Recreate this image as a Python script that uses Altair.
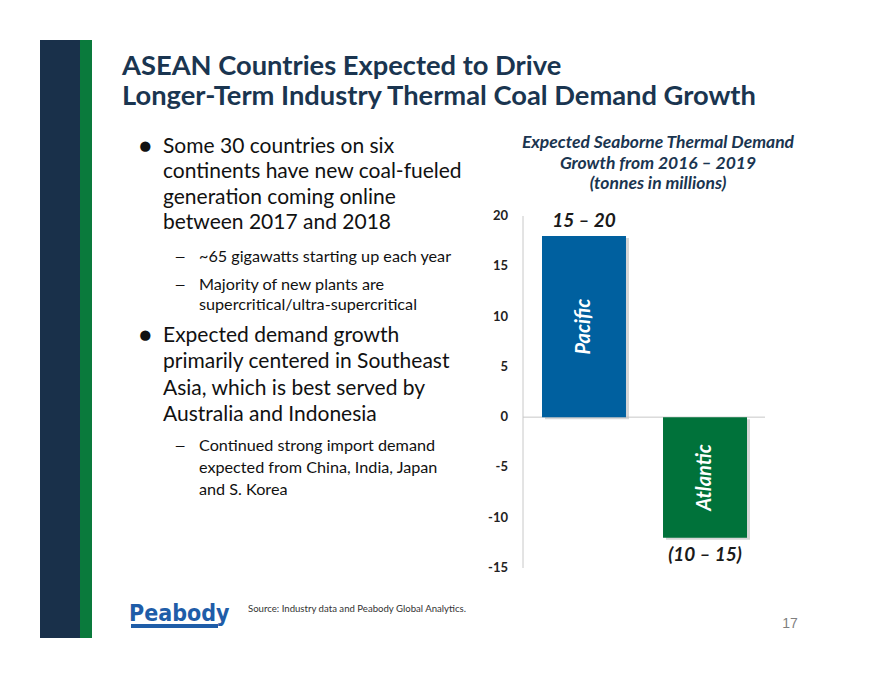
import altair as alt
import pandas as pd

# ---- data ----
regions = ["Pacific", "Atlantic"]
values = [18, -12]
range_labels = ["15 – 20", "(10 – 15)"]
bar_colors = ["#00609F", "#00723A"]
tick_values = [20, 15, 10, 5, 0, -5, -10, -15]
tick_texts = ["20", "15", "10", "5", "0", "-5", "-10", "-15"]

title_lines = ["ASEAN Countries Expected to Drive",
               "Longer-Term Industry Thermal Coal Demand Growth"]
chart_title_lines = ["Expected Seaborne Thermal Demand",
                     "Growth from 2016 – 2019",
                     "(tonnes in millions)"]
bullet1 = ["Some 30 countries on six", "continents have new coal-fueled",
           "generation coming online", "between 2017 and 2018"]
sub1a = ["~65 gigawatts starting up each year"]
sub1b = ["Majority of new plants are", "supercritical/ultra-supercritical"]
bullet2 = ["Expected demand growth", "primarily centered in Southeast",
           "Asia, which is best served by", "Australia and Indonesia"]
sub2 = ["Continued strong import demand", "expected from China, India, Japan",
        "and S. Korea"]
source_text = "Source: Industry data  and Peabody Global Analytics."
page_no = "17"
logo_text = "Peabody"

FONT = "Lato"
NAVY = "#1A3550"

df = pd.DataFrame({"region": regions, "value": values, "label": range_labels})
ticks = pd.DataFrame({"tick": tick_values, "txt": tick_texts})
axis_df = pd.DataFrame({"top": [max(tick_values)], "bottom": [min(tick_values)]})
zero_df = pd.DataFrame({"z": [0]})

yscale = alt.Scale(domain=[-15, 20], range=[560, 208], nice=False, zero=False)
xscale = alt.Scale(domain=regions, range=[534, 739], paddingInner=0.306, paddingOuter=0)

layers = []


def rect(x, x2, y, y2, color):
    return alt.Chart(pd.DataFrame({"a": [0]})).mark_rect(color=color).encode(
        x=alt.value(x), x2=alt.value(x2), y=alt.value(y), y2=alt.value(y2))


def txt(s, x, y, size, color="#111111", weight="normal", style="normal",
        align="left", font=FONT, baseline="alphabetic"):
    return alt.Chart(pd.DataFrame({"t": [s]})).mark_text(
        fontSize=size, color=color, fontWeight=weight, fontStyle=style,
        align=align, baseline=baseline, font=font).encode(
        x=alt.value(x), y=alt.value(y), text="t:N")


# slide decoration (chart coords = image - 8)
layers.append(rect(32, 72, 32, 630, "#19304A"))
layers.append(rect(72, 84, 32, 630, "#0A7A3C"))

# slide title
for i, line in enumerate(title_lines):
    layers.append(txt(line, 114, 67 + i * 30, 27.3, NAVY, "bold"))


def bullet_block(lines, y0, step, size, marker, mx, tx, msize=None):
    out = [txt(marker, mx, y0, msize or size, "#111111")]
    for i, line in enumerate(lines):
        out.append(txt(line, tx, y0 + i * step, size))
    return out

layers += bullet_block(bullet1, 145, 25.3, 21, "●", 131, 155)
layers += bullet_block(sub1a, 254, 22, 16.2, "—", 167, 191, 13)
layers += bullet_block(sub1b, 282, 20, 16.2, "—", 167, 191, 13)
layers += bullet_block(bullet2, 334, 26.3, 21, "●", 131, 155)
layers += bullet_block(sub2, 443, 22, 16.2, "—", 167, 191, 13)

# chart title
for i, line in enumerate(chart_title_lines):
    layers.append(txt(line, 650, 140 + i * 20.5, 17.5, NAVY, "bold", "italic", "center"))

# axis line and zero line
axis_line = alt.Chart(axis_df).mark_rule(color="#C8C8C8", strokeWidth=1).encode(
    x=alt.value(515),
    y=alt.Y("top:Q", scale=yscale, axis=None), y2="bottom:Q")
zero_line = alt.Chart(zero_df).mark_rule(color="#C8C8C8", strokeWidth=1).encode(
    x=alt.value(515), x2=alt.value(757),
    y=alt.Y("z:Q", scale=yscale, axis=None))

tick_labels = alt.Chart(ticks).mark_text(
    align="right", baseline="middle", fontSize=13, fontWeight="bold",
    color="#222222", font=FONT).encode(
    x=alt.value(500), y=alt.Y("tick:Q", scale=yscale, axis=None), text="txt:N")

shadow = alt.Chart(df).mark_bar(color="#BBBBBB", opacity=0.6, xOffset=3, x2Offset=3,
                                yOffset=2, y2Offset=2).encode(
    x=alt.X("region:N", scale=xscale, axis=None),
    y=alt.Y("value:Q", scale=yscale, axis=None))

bars = alt.Chart(df).mark_bar().encode(
    x=alt.X("region:N", scale=xscale, axis=None),
    y=alt.Y("value:Q", scale=yscale, axis=None),
    color=alt.Color("region:N", scale=alt.Scale(domain=regions, range=bar_colors), legend=None))

top_labels = alt.Chart(df).transform_filter("datum.value >= 0").mark_text(
    fontSize=19, fontWeight="bold", fontStyle="italic", color="#1A1A1A",
    baseline="alphabetic", dy=-9, font=FONT).encode(
    x=alt.X("region:N", scale=xscale, axis=None),
    y=alt.Y("value:Q", scale=yscale, axis=None), text="label:N")

bottom_labels = alt.Chart(df).transform_filter("datum.value < 0").mark_text(
    fontSize=19, fontWeight="bold", fontStyle="italic", color="#1A1A1A",
    baseline="alphabetic", dy=23, font=FONT).encode(
    x=alt.X("region:N", scale=xscale, axis=None),
    y=alt.Y("value:Q", scale=yscale, axis=None), text="label:N")

inner_labels = alt.Chart(df).transform_calculate(mid="datum.value / 2").mark_text(
    fontSize=20, fontWeight="bold", fontStyle="italic", color="white",
    angle=270, baseline="middle", align="center", font=FONT).encode(
    x=alt.X("region:N", scale=xscale, axis=None),
    y=alt.Y("mid:Q", scale=yscale, axis=None), text="region:N")

layers += [axis_line, zero_line, tick_labels, shadow, bars, top_labels, bottom_labels, inner_labels]

# footer: logo, source, page number
layers.append(txt(logo_text, 121, 613, 23, "#1F5DA8", "bold",
                  font="DejaVu Sans Condensed, DejaVu Sans, sans-serif"))
layers.append(rect(123, 210, 616, 620, "#1F5DA8"))
layers.append(txt(source_text, 240, 604, 9.6, "#333333"))
layers.append(txt(page_no, 782, 620, 14, "#7F7F7F", align="center", font="Liberation Sans"))

chart = alt.layer(*layers).properties(
    width=864, height=664, autosize="none", padding=0
).configure_view(stroke=None)

chart.save("out.html", embed_options={"renderer": "svg", "actions": False})
